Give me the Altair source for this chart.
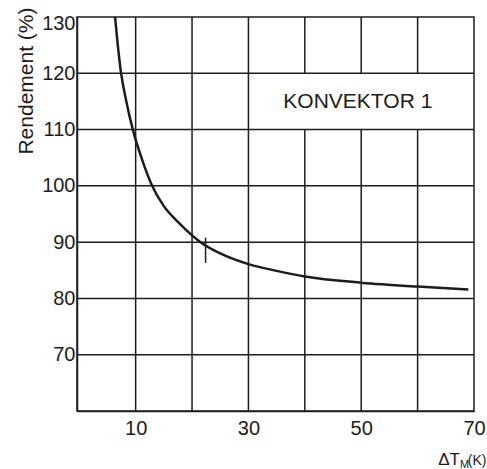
import altair as alt
import pandas as pd

# Efficiency curve of the convector versus mean temperature difference
delta_t = [6.35, 6.8, 7.35, 8.35, 9.5, 11.1, 12.8, 15, 17.5, 20, 21.5, 25, 30, 35, 40, 50, 60, 69]
rendement = [130, 125.3, 120.5, 115, 110, 104.8, 100.3, 96.4, 93.6, 91.2, 90, 88, 86.1, 84.9, 83.9, 82.8, 82.1, 81.6]

# Hand-drawn check mark on the curve
mark_dt = [22.4]
mark_low = [86.3]
mark_high = [90.8]

# Grid and axis labels
grid_x = [10, 20, 30, 40, 50, 60]
grid_y = [70, 80, 90, 100, 110, 120]
x_labels = [10, 30, 50, 70]
y_labels = [70, 80, 90, 100, 110, 120, 130]

# Panel holding the series name (vertical grid lines stop there)
panel_left = 30
panel_bottom = 110
panel_top = 120
panel_text = ["KONVEKTOR 1"]

X_DOMAIN = [-0.4, 70]
Y_DOMAIN = [60, 130]
INK = "#1c1c1c"
FONT = "Liberation Sans"

x_enc = alt.X(
    "x:Q",
    scale=alt.Scale(domain=X_DOMAIN, nice=False, zero=False),
    axis=alt.Axis(
        values=x_labels, grid=False, ticks=False, labelFlush=False,
        labelPadding=7, title=None, domainColor=INK, domainWidth=1.5,
        labelFont=FONT, labelFontSize=20, labelColor=INK,
    ),
)
y_enc = alt.Y(
    "y:Q",
    scale=alt.Scale(domain=Y_DOMAIN, nice=False, zero=False),
    axis=alt.Axis(
        values=y_labels, grid=False, ticks=False, labelPadding=2,
        labelFlush=True, labelFlushOffset=4,
        labelFont=FONT, labelFontSize=20, labelColor=INK,
        domainColor=INK, domainWidth=1.5,
        title="Rendement (%)", titleFont=FONT, titleFontSize=21,
        titleFontWeight="normal", titleColor=INK, titleAngle=270,
        titleAlign="right", titleBaseline="alphabetic",
        titleX=-45, titleY=-10,
    ),
)

# Vertical grid segments, interrupted where the name panel sits
vseg = []
for gx in grid_x:
    if gx > panel_left:
        vseg.append({"x": gx, "y": Y_DOMAIN[0], "y2": panel_bottom})
        vseg.append({"x": gx, "y": panel_top, "y2": Y_DOMAIN[1]})
    else:
        vseg.append({"x": gx, "y": Y_DOMAIN[0], "y2": Y_DOMAIN[1]})
vgrid = alt.Chart(pd.DataFrame(vseg)).mark_rule(color=INK, strokeWidth=1.5).encode(
    x=x_enc, y=y_enc, y2="y2:Q"
)

hgrid = alt.Chart(pd.DataFrame({"y": grid_y})).mark_rule(color=INK, strokeWidth=1.5).encode(
    y=y_enc
)

curve = alt.Chart(pd.DataFrame({"x": delta_t, "y": rendement})).mark_line(
    color=INK, strokeWidth=2.5, interpolate="monotone"
).encode(x=x_enc, y=y_enc)

check = alt.Chart(pd.DataFrame({"x": mark_dt, "y": mark_low, "y2": mark_high})).mark_rule(
    color=INK, strokeWidth=1.5
).encode(x=x_enc, y=y_enc, y2="y2:Q")

name = alt.Chart(pd.DataFrame({"x": [49.4], "y": [114.95], "t": panel_text})).mark_text(
    font=FONT, fontSize=21, color=INK, align="center", baseline="middle"
).encode(x=x_enc, y=y_enc, text="t:N")

# x-axis title: ΔT with subscript M, then the unit
xt_main = alt.Chart(pd.DataFrame({"x": [67.5], "y": [50.4], "t": ["ΔT"]})).mark_text(
    font=FONT, fontSize=17, color=INK, align="right", baseline="alphabetic"
).encode(x=x_enc, y=y_enc, text="t:N")
xt_sub = alt.Chart(pd.DataFrame({"x": [67.5], "y": [49.85], "t": ["M"]})).mark_text(
    font=FONT, fontSize=11, color=INK, align="left", baseline="alphabetic"
).encode(x=x_enc, y=y_enc, text="t:N")
xt_unit = alt.Chart(pd.DataFrame({"x": [68.9], "y": [50.4], "t": ["(K)"]})).mark_text(
    font=FONT, fontSize=14, color=INK, align="left", baseline="alphabetic"
).encode(x=x_enc, y=y_enc, text="t:N")

chart = (
    alt.layer(vgrid, hgrid, curve, check, name, xt_main, xt_sub, xt_unit)
    .properties(
        width=397,
        height=394,
        padding={"left": 77, "top": 17, "right": 13, "bottom": 58},
        autosize=alt.AutoSizeParams(type="none"),
        background="white",
    )
    .configure_view(stroke=INK, strokeWidth=1.5)
)

chart.save("out.html", embed_options={"renderer": "svg", "actions": False})
